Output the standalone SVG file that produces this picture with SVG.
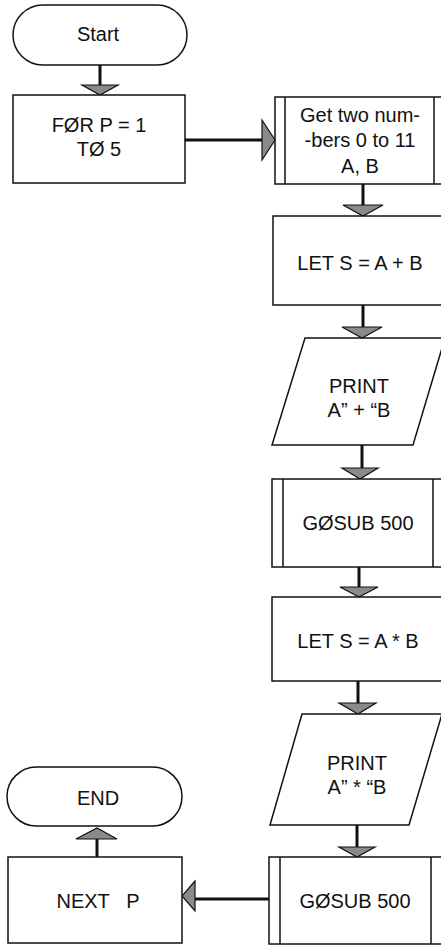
<svg xmlns="http://www.w3.org/2000/svg" width="441" height="945" viewBox="0 0 441 945">
<style>
.box{fill:#fff;stroke:#111;stroke-width:1.5}
.ln{fill:none;stroke:#111;stroke-width:3}
.ah{fill:#8a8a8a;stroke:#111;stroke-width:1.2;stroke-linejoin:miter}
text{font-family:"Liberation Sans",Arial,sans-serif;font-size:20px;fill:#111;text-anchor:middle}
</style>
<rect width="441" height="945" fill="#fff"/>
<g id="connectors">
<line class="ln" x1="100" y1="65" x2="100" y2="86"/>
<polygon class="ah" points="82,85 118,85 100,95"/>
<line class="ln" x1="185" y1="140" x2="263" y2="140"/>
<polygon class="ah" points="262,120 275,140 262,160"/>
<line class="ln" x1="363" y1="184" x2="363" y2="206"/>
<polygon class="ah" points="343,205 383,205 363,216"/>
<line class="ln" x1="363" y1="305" x2="363" y2="328"/>
<polygon class="ah" points="342,327 382,327 362,338"/>
<line class="ln" x1="362" y1="445" x2="362" y2="469"/>
<polygon class="ah" points="342,468 378,468 360,479"/>
<line class="ln" x1="359" y1="567" x2="359" y2="588"/>
<polygon class="ah" points="340,587 378,587 359,597"/>
<line class="ln" x1="358" y1="681" x2="358" y2="704"/>
<polygon class="ah" points="339,703 376,703 358,714"/>
<line class="ln" x1="357" y1="825" x2="357" y2="848"/>
<polygon class="ah" points="339,847 375,847 357,857"/>
<line class="ln" x1="269" y1="899" x2="194" y2="899"/>
<polygon class="ah" points="195,881 182,896 195,911"/>
<line class="ln" x1="97" y1="857" x2="97" y2="838"/>
<polygon class="ah" points="76,839 117,839 97,828"/>
</g>
<g id="start">
<rect class="box" x="13" y="5" width="174" height="60" rx="30" ry="30"/>
<text x="98" y="41">Start</text>
</g>
<g id="for">
<rect class="box" x="13" y="95" width="172" height="88"/>
<text x="99" y="132">FØR P = 1<tspan x="99" dy="24">TØ 5</tspan></text>
</g>
<g id="get">
<rect class="box" x="275" y="97" width="170" height="87"/>
<line class="box" x1="285" y1="97" x2="285" y2="184"/>
<line class="box" x1="434" y1="97" x2="434" y2="184"/>
<text x="360" y="122">Get two num-<tspan x="360" dy="25">-bers 0 to 11</tspan><tspan x="360" dy="26">A, B</tspan></text>
</g>
<g id="let1">
<rect class="box" x="273" y="216" width="172" height="89"/>
<text x="360" y="270">LET S = A + B</text>
</g>
<g id="print1">
<polygon class="box" points="305,338 445,338 413,445 272,445"/>
<text x="359" y="393">PRINT<tspan x="359" dy="24">A” + “B</tspan></text>
</g>
<g id="gosub1">
<rect class="box" x="272" y="479" width="172" height="88"/>
<line class="box" x1="283" y1="479" x2="283" y2="567"/>
<line class="box" x1="433" y1="479" x2="433" y2="567"/>
<text x="358" y="530">GØSUB 500</text>
</g>
<g id="let2">
<rect class="box" x="272" y="597" width="172" height="84"/>
<text x="358" y="648">LET S = A * B</text>
</g>
<g id="print2">
<polygon class="box" points="302,714 442,714 409,825 270,825"/>
<text x="357" y="770">PRINT<tspan x="357" dy="24">A” * “B</tspan></text>
</g>
<g id="gosub2">
<rect class="box" x="269" y="857" width="174" height="87"/>
<line class="box" x1="280" y1="857" x2="280" y2="944"/>
<line class="box" x1="431" y1="857" x2="431" y2="944"/>
<text x="355" y="908">GØSUB 500</text>
</g>
<g id="next">
<rect class="box" x="8" y="857" width="174" height="86"/>
<text x="98" y="908" xml:space="preserve">NEXT   P</text>
</g>
<g id="end">
<rect class="box" x="7" y="767" width="175" height="59" rx="29.5" ry="29.5"/>
<text x="98" y="805">END</text>
</g>
</svg>
